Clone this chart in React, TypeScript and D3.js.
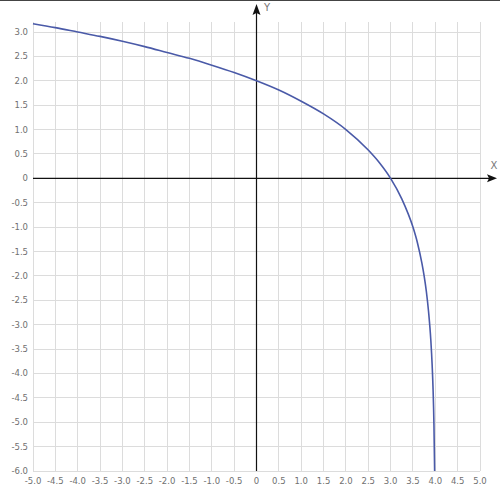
import React from "react";
import * as d3 from "d3";

const curveX = [-5, -4.5, -4, -3.5, -3, -2.5, -2, -1.5, -1, -0.5, 0, 0.5, 1, 1.5, 2, 2.5, 2.75, 3, 3.25, 3.5, 3.6, 3.7, 3.75, 3.8, 3.85, 3.9, 3.93, 3.95, 3.97, 3.985];
const curveY = [3.17, 3.09, 3.0, 2.91, 2.81, 2.7, 2.58, 2.46, 2.32, 2.17, 2.0, 1.81, 1.58, 1.32, 1.0, 0.58, 0.32, 0, -0.42, -1.0, -1.32, -1.74, -2.0, -2.32, -2.74, -3.32, -3.84, -4.32, -5.06, -6.0];
const xTicks = [-5, -4.5, -4, -3.5, -3, -2.5, -2, -1.5, -1, -0.5, 0, 0.5, 1, 1.5, 2, 2.5, 3, 3.5, 4, 4.5, 5];
const yTicks = [3, 2.5, 2, 1.5, 1, 0.5, 0, -0.5, -1, -1.5, -2, -2.5, -3, -3.5, -4, -4.5, -5, -5.5, -6];

const fmt = (v: number) => (v === 0 ? "0" : v.toFixed(1));

export default function App() {
  const x = d3.scaleLinear().domain([-5, 5]).range([33, 480]);
  const y = d3.scaleLinear().domain([-6, 3]).range([471, 32]);
  const top = y(3.2);
  const pts = curveX.map((v, i) => [v, curveY[i]] as [number, number]);
  const line = d3
    .line<[number, number]>()
    .x((d) => x(d[0]))
    .y((d) => y(d[1]))
    .curve(d3.curveMonotoneX);
  const x0 = x(0);
  const y0 = y(0);
  const font = "DejaVu Sans, Verdana, sans-serif";
  return (
    <div style={{ position: "fixed", left: 0, top: 0 }}>
      <svg width={500} height={500} style={{ display: "block", background: "#fff" }}>
        <line x1={0} x2={500} y1={0.5} y2={0.5} stroke="#444" strokeWidth={1} />
        <g stroke="#dcdcdc" strokeWidth={1} shapeRendering="crispEdges">
          {xTicks.map((t) => (
            <line key={"vx" + t} x1={x(t)} x2={x(t)} y1={top} y2={y(-6)} />
          ))}
          {yTicks.map((t) => (
            <line key={"hy" + t} x1={x(-5)} x2={x(5)} y1={y(t)} y2={y(t)} />
          ))}
        </g>
        <g fill="#707070" fontFamily={font} fontSize={8.5}>
          {xTicks.map((t) => (
            <text key={"tx" + t} x={x(t)} y={484} textAnchor="middle">
              {fmt(t)}
            </text>
          ))}
          {yTicks.map((t) => (
            <text key={"ty" + t} x={28} y={y(t) + 3} textAnchor="end">
              {fmt(t)}
            </text>
          ))}
        </g>
        <g stroke="#111" strokeWidth={1.2}>
          <line x1={x(-5)} x2={492} y1={y0} y2={y0} />
          <line x1={x0} x2={x0} y1={y(-6)} y2={10} />
        </g>
        <path d={`M497,${y0} L487,${y0 - 4} L489,${y0} L487,${y0 + 4} Z`} fill="#111" />
        <path d={`M${x0},4 L${x0 - 4},15 L${x0},13 L${x0 + 4},15 Z`} fill="#111" />
        <text x={494} y={169} fill="#777" fontFamily={font} fontSize={10} textAnchor="middle">
          X
        </text>
        <text x={267} y={11} fill="#777" fontFamily={font} fontSize={10} textAnchor="middle">
          Y
        </text>
        <path d={line(pts) || ""} fill="none" stroke="#4a5aa8" strokeWidth={1.6} />
      </svg>
    </div>
  );
}
